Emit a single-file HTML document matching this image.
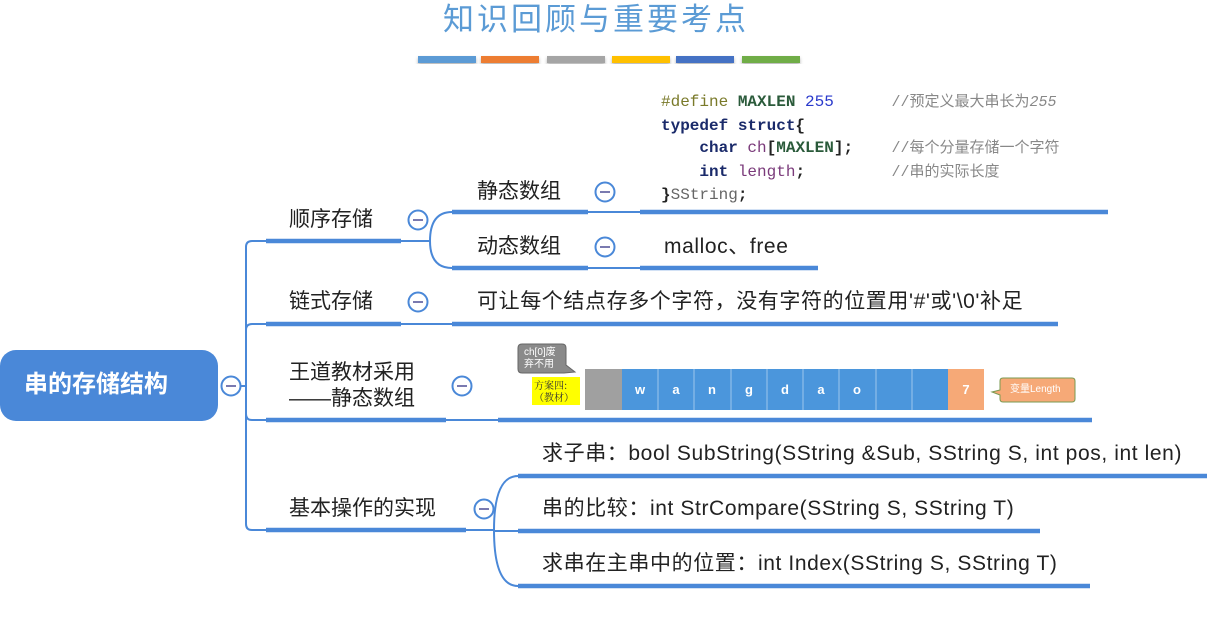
<!DOCTYPE html>
<html><head><meta charset="utf-8">
<style>
body{margin:0;width:1207px;height:628px;background:#fff;position:relative;overflow:hidden;font-family:"Liberation Sans","Noto Sans CJK SC",sans-serif;color:#222}
.t{position:absolute;font-size:21px;white-space:nowrap;line-height:1}
.l{letter-spacing:0.6px}
.code{position:absolute;font-family:"Liberation Mono","Noto Sans CJK SC",monospace;font-size:16px;line-height:22.5px;white-space:pre;left:661px;top:91px;font-weight:bold}
.cm{color:#888;font-weight:normal;font-size:15px}
.c{position:absolute;font-size:13px;font-weight:bold;color:#fff;top:383px;width:36px;text-align:center;line-height:1}
</style></head><body>
<div class="t" style="left:443px;top:1px;font-size:31px;color:#5b9bd5;letter-spacing:3px;font-family:'Noto Sans CJK SC',sans-serif">知识回顾与重要考点</div>
<svg width="1207" height="628" style="position:absolute;left:0;top:0">
<defs><filter id="s"><feDropShadow dx="0" dy="2" stdDeviation="1.5" flood-opacity="0.3"/></filter></defs>
<g filter="url(#s)">
<rect x="418" y="56" width="58" height="7" fill="#5b9bd5"/><rect x="481" y="56" width="58" height="7" fill="#ed7d31"/>
<rect x="547" y="56" width="58" height="7" fill="#a5a5a5"/><rect x="612" y="56" width="58" height="7" fill="#ffc000"/>
<rect x="676" y="56" width="58" height="7" fill="#4472c4"/><rect x="742" y="56" width="58" height="7" fill="#70ad47"/>
</g>
<rect x="0" y="350" width="218" height="71" rx="16" fill="#4a88d8"/>
<g fill="none" stroke="#4a88d8" stroke-width="2">
<path d="M240 386 H246"/>
<path d="M266 241 H252 Q246 241 246 247 V524 Q246 530 252 530 H266"/>
<path d="M246 330 Q246 324 252 324 H266"/>
<path d="M246 414 Q246 420 252 420 H266"/>
<path d="M401 241 H430 M430 241 Q430 212 452 212 M430 241 Q430 268 452 268"/>
<path d="M401 324 H452"/>
<path d="M446 420 H498"/>
<path d="M466 530 H494 M494 530 Q494 476 518 476 M494 530 Q494 586 518 586 M494 531 H518"/>
<path d="M588 212 H640 M588 268 H640"/>
</g>
<g stroke="#4a88d8" stroke-width="4.5">
<path d="M266 241 H401 M266 324 H401 M266 420 H446 M266 530 H466"/>
<path d="M452 212 H588 M452 268 H588 M640 212 H1108 M640 268 H818"/>
<path d="M452 324 H1058 M498 420 H1092"/>
<path d="M518 476 H1207 M518 531 H1040 M518 586 H1090"/>
</g>
<g fill="#fff" stroke="#4a88d8" stroke-width="2">
<circle cx="231" cy="386" r="9.5"/><circle cx="418" cy="220" r="9.5"/><circle cx="418" cy="302" r="9.5"/>
<circle cx="462" cy="386" r="9.5"/><circle cx="484" cy="509" r="9.5"/><circle cx="605" cy="192" r="9.5"/><circle cx="605" cy="247" r="9.5"/>
</g>
<g stroke="#7a7ab0" stroke-width="2">
<path d="M226 386 H236 M413 220 H423 M413 302 H423 M457 386 H467 M479 509 H489 M600 192 H610 M600 247 H610"/>
</g>
<rect x="585" y="369" width="37" height="41" fill="#a0a0a0"/>
<rect x="622" y="369" width="326" height="41" fill="#4b96dc"/>
<g stroke="#9cc5ec" stroke-width="1"><path d="M658 369 V410 M694 369 V410 M731 369 V410 M767 369 V410 M803 369 V410 M839 369 V410 M876 369 V410 M912 369 V410"/></g>
<rect x="948" y="369" width="36" height="41" fill="#f6a977"/>
<path d="M518 348 Q518 344 522 344 H562 Q566 344 566 348 V365 L575 372 L564 373 H522 Q518 373 518 369Z" fill="#8a8a8a" stroke="#666" stroke-width="1"/>
<path d="M1003 378 H1072 Q1075 378 1075 381 V399 Q1075 402 1072 402 H1003 Q1000 402 1000 399 V395 L992 392 L1000 390 V381 Q1000 378 1003 378Z" fill="#f6a977" stroke="#7a9a50" stroke-width="1"/>
<rect x="532" y="377" width="48" height="28" fill="#ffff00"/>
</svg>
<div class="t" style="left:24px;top:373px;font-size:24px;font-weight:bold;color:#fff">串的存储结构</div>
<div class="t" style="left:289px;top:209px">顺序存储</div>
<div class="t" style="left:289px;top:291px">链式存储</div>
<div class="t" style="left:289px;top:360px;line-height:26px">王道教材采用<br>——静态数组</div>
<div class="t" style="left:289px;top:498px">基本操作的实现</div>
<div class="t" style="left:477px;top:181px">静态数组</div>
<div class="t" style="left:477px;top:236px">动态数组</div>
<div class="t l" style="left:664px;top:236px">malloc、free</div>
<div class="t l" style="left:477px;top:291px">可让每个结点存多个字符，没有字符的位置用'#'或'\0'补足</div>
<div class="t l" style="left:542px;top:443px">求子串：bool SubString(SString &amp;Sub, SString S, int pos, int len)</div>
<div class="t l" style="left:542px;top:498px">串的比较：int StrCompare(SString S, SString T)</div>
<div class="t l" style="left:542px;top:553px">求串在主串中的位置：int Index(SString S, SString T)</div>
<div class="code"><span style="color:#7a7a2a;font-weight:normal">#define</span> <span style="color:#2a5a3a">MAXLEN</span> <span style="color:#2a3acc;font-weight:normal">255</span>      <span class="cm">//预定义最大串长为<i>255</i></span>
<span style="color:#1a2a6a">typedef struct</span>{
    <span style="color:#1a2a6a">char</span> <span style="color:#7a3a7a;font-weight:normal">ch</span>[<span style="color:#2a5a3a">MAXLEN</span>];    <span class="cm">//每个分量存储一个字符</span>
    <span style="color:#1a2a6a">int</span> <span style="color:#7a3a7a;font-weight:normal">length</span>;         <span class="cm">//串的实际长度</span>
}<span style="color:#666;font-weight:normal">SString</span>;</div>
<div class="t" style="left:524px;top:347px;font-size:10px;color:#fff;line-height:12px">ch[0]废<br>弃不用</div>
<div class="t" style="left:534px;top:379px;font-size:10px;color:#333;line-height:12px;font-family:'Noto Serif CJK SC',serif">方案四:<br>（教材）</div>
<div class="c" style="left:622px">w</div>
<div class="c" style="left:658px">a</div>
<div class="c" style="left:694px">n</div>
<div class="c" style="left:731px">g</div>
<div class="c" style="left:767px">d</div>
<div class="c" style="left:803px">a</div>
<div class="c" style="left:839px">o</div>
<div class="c" style="left:948px">7</div>
<div class="t" style="font-size:10px;color:#fff;top:385px;left:1010px">变量Length</div>
</body></html>
